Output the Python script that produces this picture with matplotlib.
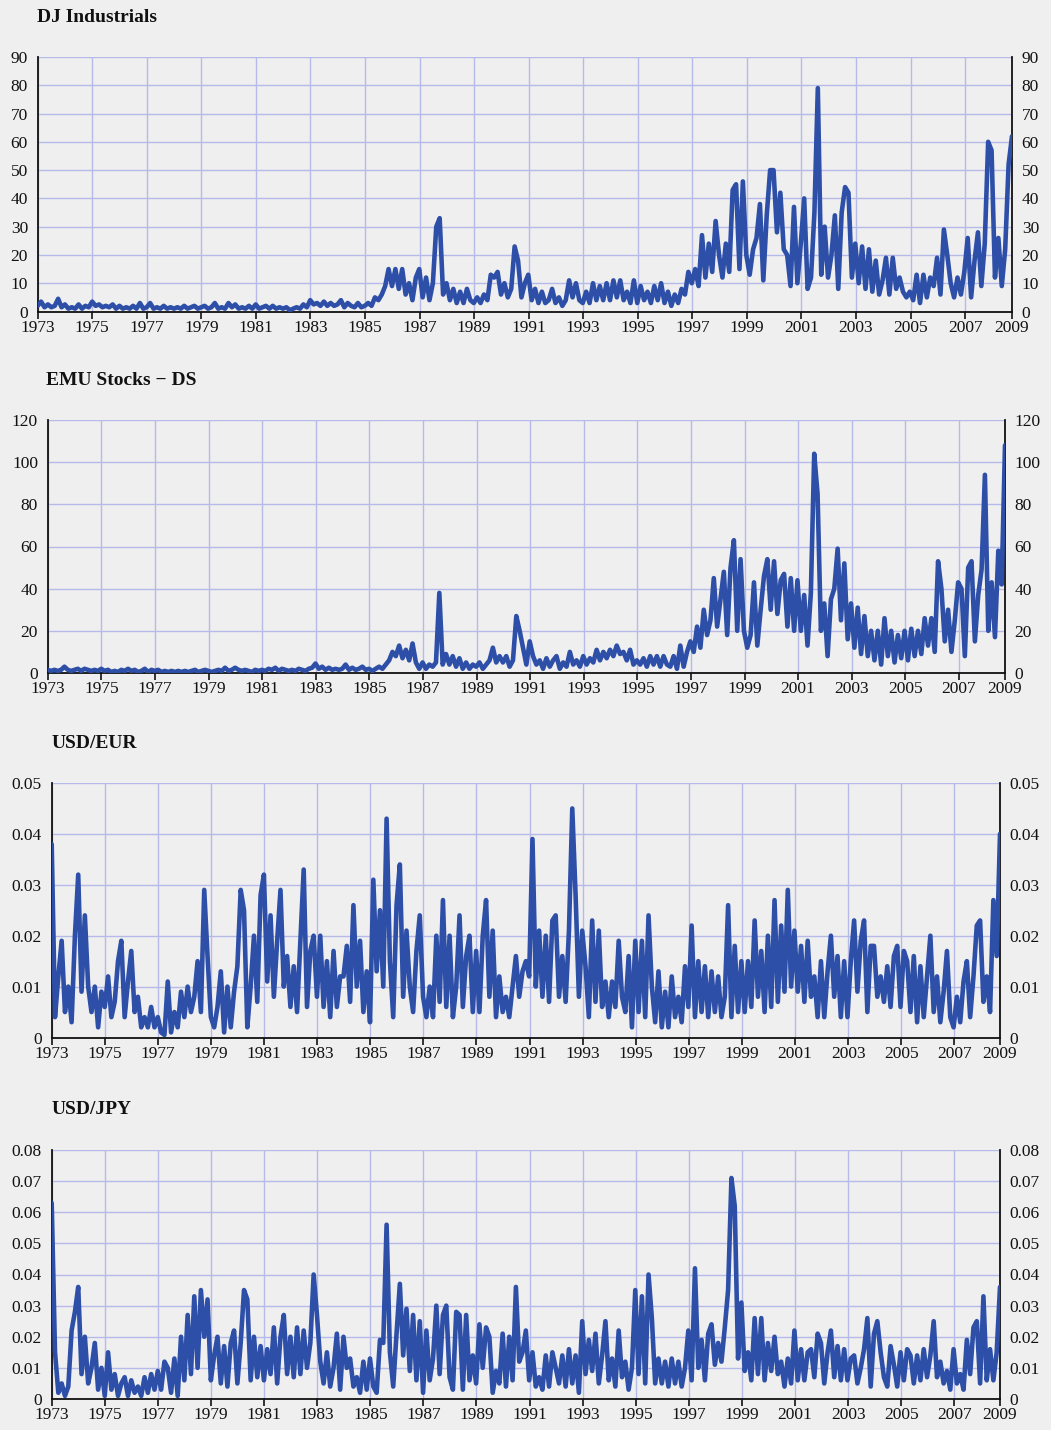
import numpy as np
import matplotlib
matplotlib.use("Agg")
import matplotlib.pyplot as plt
from matplotlib.ticker import FuncFormatter

plt.rcParams['font.family'] = ['Liberation Serif', 'DejaVu Serif']

# weekly volatility, 8 samples per year (last year ends ~Sep 2008)
dj_industrials = [
    2, 3.5, 1.5, 2.5, 1.5, 2, 4.5, 1.5,      # 1973
    2.5, 1, 1.5, 1, 2.5, 1, 2, 1.5,          # 1974
    3.5, 2, 2.5, 1.5, 2, 1.5, 2.5, 1,        # 1975
    2, 1, 1.5, 1, 2, 1, 3, 1,                # 1976
    1.5, 3, 1, 1.5, 1, 2, 1, 1.5,            # 1977
    1, 1.5, 1, 2, 1, 1.5, 2, 1,              # 1978
    1.5, 2, 1, 1.5, 3, 1, 1.5, 1,            # 1979
    3, 1.5, 2.5, 1, 1.5, 1, 2, 1,            # 1980
    2.5, 1, 1.5, 2, 1, 2, 1, 1.5,            # 1981
    1, 1.5, 0.5, 1, 1.5, 1, 2.5, 1.5,        # 1982
    4, 2.5, 3, 2, 3.5, 2, 3, 2,              # 1983
    2.5, 4, 1.5, 3, 2, 1.5, 3, 1.5,          # 1984
    2, 3, 2, 5, 4, 6, 9, 15,                 # 1985
    9, 15, 8, 15, 6, 10, 4, 12,              # 1986
    15, 5, 12, 4, 10, 30, 33, 6,             # 1987
    10, 4, 8, 3, 7, 3, 8, 4,                 # 1988
    3, 5, 3, 6, 4, 13, 12, 14,               # 1989
    6, 10, 5, 8, 23, 18, 5, 10,              # 1990
    13, 4, 8, 3, 7, 3, 4, 8,                 # 1991
    3, 5, 2, 4, 11, 5, 10, 4,                # 1992
    3, 7, 3, 10, 4, 9, 4, 10,                # 1993
    4, 11, 5, 11, 4, 7, 3, 11,               # 1994
    3, 9, 4, 7, 3, 9, 4, 10,                 # 1995
    3, 7, 2, 6, 3, 8, 6, 14,                 # 1996
    10, 15, 9, 27, 12, 24, 14, 32,           # 1997
    20, 12, 24, 14, 43, 45, 15, 46,          # 1998
    20, 13, 22, 26, 38, 11, 34, 50,          # 1999
    50, 28, 42, 22, 20, 9, 37, 10,           # 2000
    24, 40, 8, 12, 35, 79, 13, 30,           # 2001
    12, 20, 34, 8, 35, 44, 42, 12,           # 2002
    24, 10, 23, 8, 22, 7, 18, 6,             # 2003
    11, 19, 6, 19, 8, 12, 7, 5,              # 2004
    7, 4, 13, 3, 13, 5, 12, 9,               # 2005
    19, 6, 29, 20, 10, 5, 12, 6,             # 2006
    14, 26, 5, 18, 28, 9, 24, 60,            # 2007
    57, 12, 26, 9, 22, 52, 62,               # 2008
]

emu_stocks = [
    1.5, 1, 1.5, 1, 1.5, 3, 1.5, 1,          # 1973
    1.5, 2, 1, 2, 1.5, 1, 1.5, 1,            # 1974
    2, 1, 1.5, 0.5, 1, 0.5, 1.5, 1,          # 1975
    2, 1, 1.5, 0.5, 1, 2, 0.5, 1.5,          # 1976
    1, 1.5, 0.5, 1, 0.5, 1, 0.5, 1,          # 1977
    0.5, 1, 0.5, 1, 1.5, 0.5, 1, 1.5,        # 1978
    1, 0.5, 1, 1.5, 1, 2.5, 1, 1.5,          # 1979
    2.5, 1.5, 1, 1.5, 1, 0.5, 1.5, 1,        # 1980
    1.5, 1, 2, 1.5, 2.5, 1, 2, 1.5,          # 1981
    1, 1.5, 1, 2, 1.5, 1, 2, 2.5,            # 1982
    4.5, 2, 3, 1.5, 2.5, 1.5, 2, 1.5,        # 1983
    2, 4, 1.5, 2.5, 1.5, 2, 3, 1.5,          # 1984
    2, 1, 2, 3, 2, 4, 6, 10,                 # 1985
    8, 13, 7, 11, 6, 14, 5, 2,               # 1986
    5, 2, 4, 3, 5, 38, 4, 9,                 # 1987
    4, 8, 3, 7, 2, 5, 2, 4,                  # 1988
    3, 5, 2, 4, 6, 12, 5, 8,                 # 1989
    5, 8, 3, 6, 27, 20, 12, 4,               # 1990
    15, 8, 4, 6, 2, 7, 3, 6,                 # 1991
    8, 2, 5, 3, 10, 4, 6, 3,                 # 1992
    8, 4, 7, 5, 11, 6, 10, 7,                # 1993
    11, 8, 13, 9, 10, 6, 11, 4,              # 1994
    6, 4, 7, 3, 8, 4, 8, 3,                  # 1995
    8, 4, 3, 8, 2, 13, 3, 10,                # 1996
    15, 10, 22, 12, 30, 18, 25, 45,          # 1997
    22, 35, 48, 18, 50, 63, 20, 54,          # 1998
    20, 12, 18, 43, 13, 30, 46, 54,          # 1999
    30, 53, 28, 44, 47, 22, 45, 20,          # 2000
    44, 20, 37, 13, 38, 104, 85, 20,         # 2001
    33, 8, 35, 40, 59, 25, 52, 16,           # 2002
    33, 12, 31, 9, 27, 8, 20, 6,             # 2003
    20, 4, 26, 8, 20, 5, 18, 7,              # 2004
    20, 6, 21, 8, 20, 9, 26, 13,             # 2005
    26, 10, 53, 40, 15, 30, 10, 25,          # 2006
    43, 40, 8, 50, 53, 15, 37, 49,           # 2007
    94, 20, 43, 17, 58, 42, 108,             # 2008
]

usd_eur = [
    0.038, 0.004, 0.012, 0.019, 0.005, 0.010, 0.003, 0.020,   # 1973
    0.032, 0.009, 0.024, 0.010, 0.005, 0.010, 0.002, 0.009,   # 1974
    0.006, 0.012, 0.004, 0.007, 0.015, 0.019, 0.004, 0.011,   # 1975
    0.017, 0.005, 0.008, 0.002, 0.004, 0.002, 0.006, 0.002,   # 1976
    0.004, 0.001, 0.0005, 0.011, 0.001, 0.005, 0.002, 0.009,  # 1977
    0.004, 0.010, 0.005, 0.008, 0.015, 0.005, 0.029, 0.016,   # 1978
    0.004, 0.002, 0.006, 0.013, 0.001, 0.010, 0.002, 0.009,   # 1979
    0.014, 0.029, 0.025, 0.002, 0.010, 0.020, 0.007, 0.028,   # 1980
    0.032, 0.011, 0.024, 0.008, 0.019, 0.029, 0.010, 0.016,   # 1981
    0.006, 0.014, 0.005, 0.019, 0.033, 0.006, 0.017, 0.020,   # 1982
    0.008, 0.020, 0.006, 0.015, 0.004, 0.017, 0.006, 0.012,   # 1983
    0.012, 0.018, 0.007, 0.026, 0.010, 0.019, 0.005, 0.013,   # 1984
    0.003, 0.031, 0.013, 0.025, 0.010, 0.043, 0.015, 0.004,   # 1985
    0.026, 0.034, 0.008, 0.021, 0.010, 0.005, 0.017, 0.024,   # 1986
    0.008, 0.004, 0.010, 0.004, 0.020, 0.007, 0.027, 0.006,   # 1987
    0.020, 0.004, 0.010, 0.024, 0.006, 0.016, 0.020, 0.005,   # 1988
    0.017, 0.005, 0.020, 0.027, 0.008, 0.021, 0.004, 0.012,   # 1989
    0.005, 0.008, 0.004, 0.010, 0.016, 0.008, 0.013, 0.015,   # 1990
    0.012, 0.039, 0.010, 0.021, 0.008, 0.020, 0.007, 0.023,   # 1991
    0.024, 0.008, 0.016, 0.007, 0.021, 0.045, 0.028, 0.008,   # 1992
    0.021, 0.014, 0.004, 0.023, 0.007, 0.021, 0.006, 0.011,   # 1993
    0.004, 0.011, 0.006, 0.019, 0.008, 0.005, 0.016, 0.002,   # 1994
    0.019, 0.005, 0.019, 0.004, 0.024, 0.010, 0.003, 0.013,   # 1995
    0.002, 0.009, 0.002, 0.012, 0.004, 0.008, 0.003, 0.014,   # 1996
    0.006, 0.022, 0.004, 0.015, 0.005, 0.014, 0.004, 0.013,   # 1997
    0.005, 0.012, 0.004, 0.008, 0.026, 0.004, 0.018, 0.005,   # 1998
    0.015, 0.005, 0.015, 0.006, 0.023, 0.008, 0.017, 0.005,   # 1999
    0.020, 0.006, 0.027, 0.007, 0.022, 0.009, 0.029, 0.010,   # 2000
    0.021, 0.009, 0.018, 0.007, 0.019, 0.008, 0.012, 0.004,   # 2001
    0.015, 0.004, 0.013, 0.020, 0.008, 0.016, 0.004, 0.015,   # 2002
    0.004, 0.015, 0.023, 0.009, 0.019, 0.023, 0.005, 0.018,   # 2003
    0.018, 0.008, 0.012, 0.007, 0.014, 0.006, 0.016, 0.018,   # 2004
    0.006, 0.017, 0.015, 0.005, 0.016, 0.003, 0.014, 0.004,   # 2005
    0.012, 0.020, 0.005, 0.012, 0.003, 0.009, 0.017, 0.004,   # 2006
    0.002, 0.008, 0.003, 0.011, 0.015, 0.004, 0.012, 0.022,   # 2007
    0.023, 0.007, 0.012, 0.005, 0.027, 0.016, 0.040,          # 2008
]

usd_jpy = [
    0.063, 0.015, 0.002, 0.005, 0.001, 0.004, 0.022, 0.028,   # 1973
    0.036, 0.008, 0.020, 0.005, 0.010, 0.018, 0.003, 0.010,   # 1974
    0.001, 0.015, 0.003, 0.008, 0.001, 0.005, 0.007, 0.001,   # 1975
    0.006, 0.002, 0.004, 0.001, 0.007, 0.002, 0.008, 0.003,   # 1976
    0.009, 0.003, 0.012, 0.010, 0.002, 0.013, 0.001, 0.020,   # 1977
    0.006, 0.027, 0.008, 0.033, 0.010, 0.035, 0.020, 0.032,   # 1978
    0.006, 0.014, 0.020, 0.005, 0.017, 0.004, 0.018, 0.022,   # 1979
    0.005, 0.018, 0.035, 0.032, 0.006, 0.020, 0.007, 0.017,   # 1980
    0.006, 0.016, 0.008, 0.023, 0.005, 0.020, 0.027, 0.008,   # 1981
    0.020, 0.007, 0.023, 0.008, 0.022, 0.010, 0.018, 0.040,   # 1982
    0.027, 0.012, 0.005, 0.015, 0.004, 0.010, 0.021, 0.003,   # 1983
    0.020, 0.010, 0.013, 0.004, 0.007, 0.002, 0.012, 0.003,   # 1984
    0.013, 0.004, 0.002, 0.019, 0.018, 0.056, 0.015, 0.004,   # 1985
    0.021, 0.037, 0.014, 0.029, 0.009, 0.027, 0.006, 0.025,   # 1986
    0.002, 0.022, 0.006, 0.013, 0.030, 0.008, 0.027, 0.030,   # 1987
    0.007, 0.003, 0.028, 0.027, 0.003, 0.027, 0.006, 0.014,   # 1988
    0.005, 0.024, 0.010, 0.023, 0.020, 0.002, 0.009, 0.005,   # 1989
    0.021, 0.004, 0.020, 0.006, 0.036, 0.012, 0.015, 0.022,   # 1990
    0.006, 0.015, 0.004, 0.007, 0.003, 0.014, 0.004, 0.015,   # 1991
    0.010, 0.005, 0.014, 0.004, 0.016, 0.005, 0.014, 0.002,   # 1992
    0.025, 0.008, 0.019, 0.009, 0.021, 0.005, 0.014, 0.025,   # 1993
    0.006, 0.013, 0.004, 0.022, 0.007, 0.012, 0.003, 0.010,   # 1994
    0.035, 0.008, 0.033, 0.005, 0.040, 0.026, 0.005, 0.013,   # 1995
    0.005, 0.012, 0.004, 0.013, 0.005, 0.012, 0.004, 0.010,   # 1996
    0.022, 0.006, 0.042, 0.010, 0.019, 0.006, 0.021, 0.024,   # 1997
    0.011, 0.018, 0.012, 0.023, 0.035, 0.071, 0.062, 0.013,   # 1998
    0.031, 0.009, 0.015, 0.006, 0.026, 0.008, 0.026, 0.006,   # 1999
    0.018, 0.009, 0.020, 0.008, 0.012, 0.004, 0.013, 0.005,   # 2000
    0.022, 0.006, 0.016, 0.006, 0.015, 0.016, 0.007, 0.021,   # 2001
    0.018, 0.005, 0.015, 0.022, 0.007, 0.017, 0.006, 0.016,   # 2002
    0.006, 0.013, 0.014, 0.005, 0.010, 0.016, 0.026, 0.004,   # 2003
    0.021, 0.025, 0.015, 0.007, 0.004, 0.017, 0.011, 0.004,   # 2004
    0.015, 0.006, 0.016, 0.014, 0.005, 0.014, 0.006, 0.016,   # 2005
    0.007, 0.014, 0.025, 0.007, 0.012, 0.005, 0.009, 0.003,   # 2006
    0.016, 0.005, 0.008, 0.003, 0.019, 0.008, 0.023, 0.025,   # 2007
    0.005, 0.033, 0.006, 0.016, 0.006, 0.015, 0.036,          # 2008
]

titles = ["DJ Industrials", "EMU Stocks \u2212 DS", "USD/EUR", "USD/JPY"]
series = [dj_industrials, emu_stocks, usd_eur, usd_jpy]
y_maxes = [90, 120, 0.05, 0.08]
y_steps = [10, 20, 0.01, 0.01]

start_year = 1973
end_year = 2008.72
tick_years = list(range(1973, 2008, 2))
tick_labels = [str(y) for y in tick_years] + ["2009"]

BG = "#efefef"
GRID = "#b6bae8"
LINE = "#2d4fa8"

# axes boxes in pixels (left, right, top, bottom) of a 1051x1430 canvas
boxes = [(37.7, 1012, 57, 311.5),
         (47.7, 1005, 420, 673),
         (51.7, 1000, 783, 1037.5),
         (51.7, 1000, 1150, 1399)]
title_pos = [(37, 22), (46, 385), (52, 748), (52, 1114)]

W, H = 1051, 1430
fig = plt.figure(figsize=(W / 100, H / 100), dpi=100, facecolor=BG)


def fmt(v, pos):
    if abs(v) < 1e-12:
        return "0"
    return "%g" % round(v, 4)


for vals, title, ymax, ystep, box, tp in zip(series, titles, y_maxes, y_steps, boxes, title_pos):
    l, r, t, b = box
    ax = fig.add_axes([l / W, 1 - b / H, (r - l) / W, (b - t) / H])
    ax.set_facecolor(BG)
    x = np.linspace(start_year, end_year, len(vals))
    ax.plot(x, vals, color=LINE, lw=3.3, solid_joinstyle="round",
            solid_capstyle="round", zorder=3)

    ax.set_xlim(start_year, end_year)
    ax.set_ylim(0, ymax)
    ax.set_xticks(tick_years + [end_year])
    ax.set_xticklabels(tick_labels)
    ax.set_yticks(np.arange(0, ymax + ystep / 2, ystep))
    ax.yaxis.set_major_formatter(FuncFormatter(fmt))

    ax.grid(True, color=GRID, lw=1.0, zorder=0)
    ax.set_axisbelow(True)

    ax.tick_params(axis="y", length=0, labelsize=12.5, labelleft=True,
                   labelright=True, pad=7, colors="#111111")
    ax.tick_params(axis="x", length=5, width=1.2, direction="out",
                   labelsize=12.5, pad=1, colors="#111111")
    ax.spines["top"].set_visible(False)
    for s in ["left", "right", "bottom"]:
        ax.spines[s].set_color("#111111")
        ax.spines[s].set_linewidth(1.3)

    fig.text(tp[0] / W, 1 - tp[1] / H, title, fontsize=14, fontweight="bold",
             ha="left", va="baseline", color="#111111")

fig.savefig("out.png", dpi=100, facecolor=BG)
